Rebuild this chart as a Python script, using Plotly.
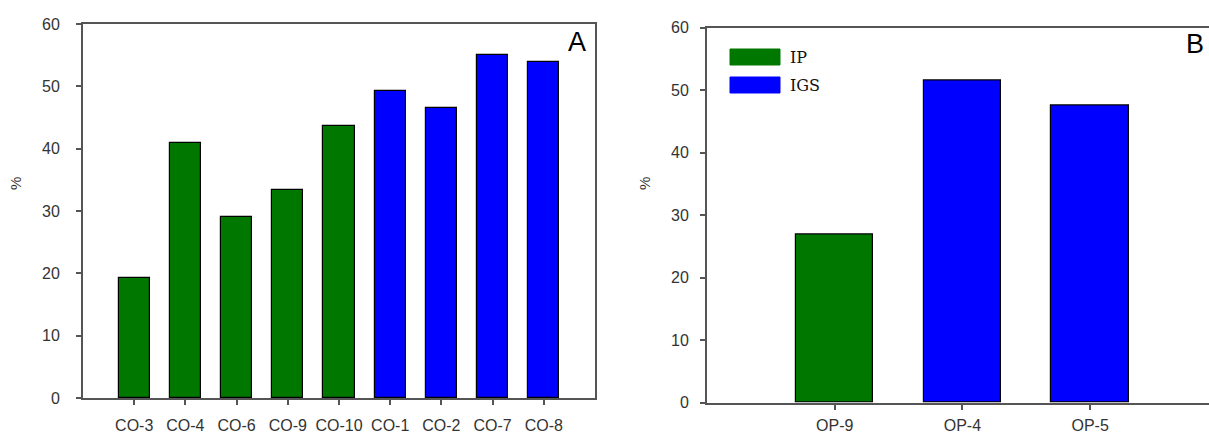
import plotly.graph_objects as go

# Panel A: CO samples
a_labels = ["CO-3", "CO-4", "CO-6", "CO-9", "CO-10", "CO-1", "CO-2", "CO-7", "CO-8"]
a_values = [19.2, 40.9, 29.1, 33.3, 43.7, 49.3, 46.6, 55.1, 53.9]
a_groups = ["IP", "IP", "IP", "IP", "IP", "IGS", "IGS", "IGS", "IGS"]

# Panel B: OP samples
b_labels = ["OP-9", "OP-4", "OP-5"]
b_values = [26.9, 51.5, 47.5]
b_groups = ["IP", "IGS", "IGS"]

y_ticks = [0, 10, 20, 30, 40, 50, 60]
group_colors = {"IP": "#007800", "IGS": "#0000FF"}

W, H = 1209, 434


def px(x):
    return x / W


def py(y):
    return 1 - y / H


fig = go.Figure()

fig.add_trace(go.Bar(
    x=a_labels, y=a_values, width=0.61,
    marker=dict(color=[group_colors[g] for g in a_groups],
                line=dict(color="#000000", width=1.2)),
    xaxis="x", yaxis="y", showlegend=False,
))
fig.add_trace(go.Bar(
    x=b_labels, y=b_values, width=0.605,
    marker=dict(color=[group_colors[g] for g in b_groups],
                line=dict(color="#000000", width=1.2)),
    xaxis="x2", yaxis="y2", showlegend=False,
))

axis_line = dict(showline=True, linecolor="#555555", linewidth=2,
                 showgrid=False, zeroline=False, ticks="outside",
                 tickcolor="#555555", tickwidth=1.5, automargin=False,
                 tickfont=dict(family="Liberation Sans, Arial", size=16, color="#333333"))

fig.update_layout(
    template="none",
    width=W, height=H,
    margin=dict(l=0, r=0, t=0, b=0, pad=0),
    paper_bgcolor="white", plot_bgcolor="white",
    xaxis=dict(domain=[px(83), px(595)], range=[-1, 9], mirror=True,
               ticklen=5, ticklabelstandoff=7, **axis_line),
    yaxis=dict(domain=[py(398), py(24)], range=[0, 60], tickvals=y_ticks,
               mirror=True, ticklen=5, ticklabelstandoff=13, **axis_line),
    xaxis2=dict(domain=[px(707), 1.0], range=[-1, 2.931], mirror=True,
                anchor="y2", ticklen=5, ticklabelstandoff=2, **axis_line),
    yaxis2=dict(domain=[py(402.5), py(27.5)], range=[0, 60], tickvals=y_ticks,
                anchor="x2", mirror=False, ticklen=5, ticklabelstandoff=8,
                **axis_line),
    bargap=0,
)

annotations = [
    dict(text="%", x=px(16), y=py(184), xref="paper", yref="paper",
         xanchor="center", yanchor="middle", textangle=-90, showarrow=False,
         font=dict(family="Liberation Sans, Arial", size=15, color="#333333")),
    dict(text="%", x=px(645), y=py(184), xref="paper", yref="paper",
         xanchor="center", yanchor="middle", textangle=-90, showarrow=False,
         font=dict(family="Liberation Sans, Arial", size=15, color="#333333")),
    dict(text="A", x=px(577), y=py(42), xref="paper", yref="paper",
         xanchor="center", yanchor="middle", showarrow=False,
         font=dict(family="Liberation Sans, Arial", size=27, color="#000000")),
    dict(text="B", x=px(1206), y=py(44), xref="paper", yref="paper",
         xanchor="right", yanchor="middle", showarrow=False,
         font=dict(family="Liberation Sans, Arial", size=27, color="#000000")),
]

# Legend swatches drawn as wide rectangles with serif labels
legend_rows = [("IP", 49, 65), ("IGS", 77, 93)]
shapes = []
for name, y0, y1 in legend_rows:
    shapes.append(dict(type="rect", xref="paper", yref="paper",
                       x0=px(730), x1=px(780), y0=py(y1), y1=py(y0),
                       fillcolor=group_colors[name],
                       line=dict(color=group_colors[name], width=1)))
    annotations.append(dict(text=name, x=px(788), y=py((y0 + y1) / 2),
                            xref="paper", yref="paper", xanchor="left",
                            yanchor="middle", showarrow=False,
                            font=dict(family="DejaVu Serif", size=16,
                                      color="#111111")))

fig.update_layout(annotations=annotations, shapes=shapes)

fig.write_html("out.html")
